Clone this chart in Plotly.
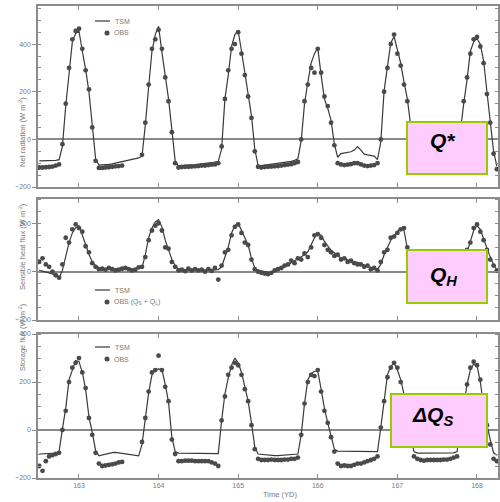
import plotly.graph_objects as go

# ---------------- data (hourly, starting at day 162.5) ----------------
START_DAY = 162.5
STEP_DAYS = 1 / 24
DAY_TICKS = [163, 164, 165, 166, 167, 168]
DAY_LABELS = ["163", "164", "165", "166", "167", "168"]

qstar_tsm = [
    -90, -90, -89, -89, -88, -88, -85, -30, 140, 285, 410, 445, 455, 370, 295, 200, 60, -80, -108, -108, -106, -105, -103, -100,
    -97, -95, -92, -88, -85, -82, -78, -70, 60, 220, 370, 440, 475, 365, 270, 170, 40, -90, -112, -110, -110, -108, -107, -106,
    -105, -104, -102, -100, -98, -95, -92, -40, 170, 270, 390, 440, 455, 370, 280, 190, 100, -40, -110, -110, -108, -107, -106, -104,
    -102, -100, -98, -95, -92, -88, -82, -5, 150, 240, 320, 360, 385, 270, 170, 130, 80, -20, -75, -60, -58, -55, -52, -45,
    -30, -45, -62, -65, -68, -70, -85, -10, 205, 310, 405, 432, 370, 320, 240, 170, 60, -60, -105, -105, -104, -103, -102, -100,
    -98, -96, -94, -92, -90, -88, -80, 40, 150, 250, 370, 410, 424, 400, 330, 200, 80, -50, -112,
]
qstar_obs = [
    -118, -118, -117, -116, -114, -110, -105, -20, 150, 300, 420, 455, 465, 380, 290, 210, 50, -90, -120, -120, -118, -117, -115, -113,
    -112, -110, None, None, None, None, None, -65, 70, 230, 380, 420, 460, 380, 260, 160, 30, -100, -118, -116, -115, -115, -114, -113,
    -112, -110, -110, -108, -106, -105, -100, -30, 170, 290, 380, 400, 450, 360, 270, 180, 90, -50, -115, -118, -116, -115, -114, -113,
    -112, -110, -108, -106, -104, -100, -95, 0, 160, 230, 300, 280, 380, 280, 180, 140, 70, -25, -100, -105, -108, -106, -104, -100,
    -100, -105, -110, -112, -110, -108, -100, 0, 200, 300, 400, 440, 360, 310, 230, 160, 50, -70, -115, -118, -116, -115, -114, -112,
    -110, -110, -108, -106, -104, -100, -90, 50, 160, 260, 360, 420, 430, 390, 320, 190, 70, -60, -125,
]

qh_tsm = [
    5, 2, 0, -5, -10, -18, -25, 5, 60, 120, 160, 182, 190, 155, 112, 72, 40, 25, 17, 14, 12, 12, 11, 10,
    10, 10, 9, 9, 10, 12, 15, 15, 70, 140, 180, 205, 215, 185, 130, 90, 50, 25, 10, 8, 6, 5, 5, 5,
    5, 5, 5, 6, 6, 7, 8, 20, 60, 100, 160, 190, 200, 170, 140, 110, 55, 15, 5, 2, 0, -2, -3, 0,
    5, 12, 20, 28, 38, 45, 52, 60, 70, 82, 110, 140, 158, 150, 125, 105, 88, 78, 65, 57, 52, 48, 44, 40,
    38, 32, 27, 22, 18, 15, 10, 30, 70, 100, 130, 150, 165, 180, 170, 95, 60, 25, 12, 10, 8, 7, 6, 6,
    5, 5, 6, 6, 7, 8, 10, 15, 30, 80, 130, 170, 190, 175, 135, 95, 60, 30, 8,
]
qh_obs = [
    40, 55, 30, 20, 0, -15, -25, 30, 140, 120, 175, 195, 180, 165, 105, 80, 35, 20, 10, 12, 8, 15, 10, 5,
    8, 12, 15, 10, 5, 8, 18, 20, 60, 130, 170, 190, 200, 170, 100, 95, 40, 20, 5, 8, 2, 12, 5, 10,
    5, 8, 0, 10, 3, 15, -33, 25, 80, 90, 150, 185, 195, 160, 120, 110, 50, 10, 0, -5, -8, -10, -5, 5,
    10, 15, 25, 30, 45, 35, 55, 50, 75, 60, 100, 150, 155, 140, 110, 90, 80, 65, 70, 50, 55, 40, 45, 35,
    30, 30, 20, 25, 10, 15, 5, 40, 80, 90, 140, 145, 160, 175, 180, 100, 60, 20, 10, 8, 5, 12, 5, 8,
    5, 10, 3, 8, 5, 10, 12, 20, 40, 90, 120, 180, 195, 165, 130, 90, 50, 25, 5,
]

dqs_tsm = [
    -100, -100, -100, -98, -97, -96, -90, 5, 90, 210, 255, 290, 285, 240, 170, 55, -10, -85, -108, -104, -100, -96, -94, -93,
    -95, -97, -100, -102, -104, -106, -108, -60, 60, 155, 230, 250, 255, 252, 190, 115, -30, -90, -96, -96, -95, -95, -95, -95,
    -95, -95, -95, -95, -96, -96, -98, 40, 150, 217, 270, 300, 280, 240, 180, 120, 30, -70, -100, -102, -104, -105, -106, -107,
    -107, -106, -105, -104, -103, -102, -100, -20, 110, 210, 235, 245, 245, 170, 90, 30, -20, -80, -88, -88, -88, -88, -88, -88,
    -88, -88, -88, -88, -88, -89, -90, 10, 110, 230, 265, 278, 250, 210, 150, 60, -30, -90, -96, -96, -96, -96, -96, -96,
    -96, -96, -96, -96, -96, -95, -90, 20, 100, 190, 250, 275, 270, 200, 100, 20, -40, -95, -105,
]
dqs_obs = [
    -150, -170, -130, -110, -105, -100, -95, 0, 80, 200, 260, 280, 300, 240, 175, 50, -20, -95, -140, -150, -148, -145, -143, -140,
    -135, -133, None, None, None, None, None, -50, 50, 160, 240, 250, 310, 250, 180, 120, -40, -100, -130, -130, -128, -128, -128, -130,
    -130, -130, -130, -130, -135, -140, -150, 40, 140, 230, 260, 280, 270, 230, 170, 120, 20, -80, -120, -125, -125, -125, -123, -125,
    -125, -125, -123, -123, -120, -120, -115, -20, 110, 200, 230, 225, 250, 160, 80, 30, -30, -90, -140, -150, -148, -150, -150, -145,
    -140, -140, -135, -130, -125, -120, -110, 10, 120, 220, 260, 280, 260, 200, 140, 60, -40, -110, -120, -125, -128, -125, -125, -125,
    -125, -125, -123, -123, -120, -115, -110, 10, 100, 190, 260, 285, 270, 210, 100, 20, -60, -120, -130,
]

time = [START_DAY + i * STEP_DAYS for i in range(len(qstar_tsm))]

# ---------------- styling ----------------
FONT = "Liberation Sans, Arial, sans-serif"
GREY = "#7a7a7a"
FRAME = "#8c8c8c"
LINE_C = "#3a3a3a"
MARK_C = "#4a4a4a"

W, H = 500, 502
ML, MR, MT, MB = 38, 2, 6, 24
PW, PH = W - ML - MR, H - MT - MB


def px_x(px):
    return (px - ML) / PW


def px_y(py):
    return (H - MB - py) / PH


panels = [
    dict(tsm=qstar_tsm, obs=qstar_obs, obs_name="OBS",
         yrange=[-200, 560], ticks=[-200, 0, 200, 400], domain=[0.6165, 1.0], leg_py=21),
    dict(tsm=qh_tsm, obs=qh_obs, obs_name="OBS (Q<sub>S</sub> + Q<sub>L</sub>)",
         yrange=[-200, 300], ticks=[-200, 0, 200], domain=[0.3347, 0.591], leg_py=290),
    dict(tsm=dqs_tsm, obs=dqs_obs, obs_name="OBS",
         yrange=[-200, 400], ticks=[-200, 0, 200, 400], domain=[0.0, 0.305], leg_py=347),
]

fig = go.Figure()
layout = dict(
    width=W, height=H,
    margin=dict(l=ML, r=MR, t=MT, b=MB, autoexpand=False),
    paper_bgcolor="white", plot_bgcolor="white",
    font=dict(family=FONT, size=7, color=GREY),
    showlegend=False,
)

for k, p in enumerate(panels, start=1):
    xa = "x" if k == 1 else f"x{k}"
    ya = "y" if k == 1 else f"y{k}"
    fig.add_trace(go.Scatter(
        x=time, y=p["tsm"], mode="lines", name="TSM",
        line=dict(color=LINE_C, width=1.2),
        xaxis=xa, yaxis=ya, connectgaps=False,
    ))
    fig.add_trace(go.Scatter(
        x=time, y=p["obs"], mode="markers", name=p["obs_name"],
        marker=dict(color=MARK_C, size=4.8, symbol="circle"),
        xaxis=xa, yaxis=ya,
    ))
    xkey = "xaxis" if k == 1 else f"xaxis{k}"
    ykey = "yaxis" if k == 1 else f"yaxis{k}"
    layout[xkey] = dict(
        domain=[0, 1], anchor=ya, range=[162.485, 168.264], automargin=False,
        tickmode="array", tickvals=DAY_TICKS, ticktext=DAY_LABELS,
        showticklabels=(k == 3), ticks="inside", ticklen=4, tickcolor=FRAME,
        showline=True, linecolor=FRAME, linewidth=1.5, mirror="allticks",
        showgrid=False, zeroline=False,
        tickfont=dict(size=7, color=GREY),
        matches=None if k == 1 else "x",
    )
    layout[ykey] = dict(
        domain=p["domain"], anchor=xa, range=p["yrange"], automargin=False,
        tickmode="array", tickvals=p["ticks"],
        ticks="outside", ticklen=4, tickcolor=FRAME,
        minor=dict(dtick=50, ticks="inside", ticklen=3, tickcolor=FRAME, showgrid=False),
        showline=True, linecolor=FRAME, linewidth=1.5, mirror="allticks",
        showgrid=False, zeroline=True, zerolinecolor="#8a8a8a", zerolinewidth=1.6,
        tickfont=dict(size=7, color=GREY),
    )

    # hand-drawn legend (compact, like the reference)
    ly = p["leg_py"]
    fig.add_shape(type="line", xref="paper", yref="paper",
                  x0=px_x(95), x1=px_x(110), y0=px_y(ly), y1=px_y(ly),
                  line=dict(color=LINE_C, width=1.2))
    fig.add_annotation(text="TSM", xref="paper", yref="paper", x=px_x(113), y=px_y(ly),
                       xanchor="left", yanchor="middle", showarrow=False,
                       font=dict(size=7, color=GREY, family=FONT))
    my = ly + 12
    fig.add_shape(type="circle", xref="paper", yref="paper",
                  x0=px_x(104.5), x1=px_x(109.5), y0=px_y(my + 2.5), y1=px_y(my - 2.5),
                  fillcolor=MARK_C, line=dict(color=MARK_C, width=0))
    fig.add_annotation(text=p["obs_name"], xref="paper", yref="paper", x=px_x(112), y=px_y(my),
                       xanchor="left", yanchor="middle", showarrow=False,
                       font=dict(size=7, color=GREY, family=FONT))

fig.update_layout(**layout)

# axis titles
ytitles = [
    ("Net radiation (W m<sup>-2</sup>)", 95),
    ("Sensible heat flux (W m<sup>-2</sup>)", 247),
    ("Storage flux (W m<sup>-2</sup>)", 373),
]
for text, py in ytitles:
    fig.add_annotation(text=text, xref="paper", yref="paper", x=px_x(15), y=px_y(py),
                       textangle=-90, showarrow=False,
                       font=dict(size=7.5, color=GREY, family=FONT))
fig.add_annotation(text="Time (YD)", xref="paper", yref="paper", x=px_x(280), y=px_y(501),
                   yanchor="bottom", showarrow=False, font=dict(size=7.5, color=GREY, family=FONT))

# label boxes (pixel extents from the reference) and their label positions
boxes = [
    ("<b><i>Q*</i></b>", 407, 487, 122, 174, 428, 140),
    ("<b><i>Q<sub>H</sub></i></b>", 407, 487, 250, 303, 428, 276),
    ("<b><i>ΔQ<sub>S</sub></i></b>", 391, 487, 394, 447, 410, 416),
]
for text, x0, x1, y0, y1, tx, ty in boxes:
    fig.add_shape(type="rect", xref="paper", yref="paper",
                  x0=px_x(x0), x1=px_x(x1), y0=px_y(y1), y1=px_y(y0),
                  fillcolor="#FFCCFF", line=dict(color="#99CC00", width=2), layer="above")
    fig.add_annotation(text=text, xref="paper", yref="paper",
                       x=px_x(tx), y=px_y(ty), xanchor="left", yanchor="middle",
                       showarrow=False, font=dict(size=21, color="black", family=FONT))

fig.write_html("out.html")
